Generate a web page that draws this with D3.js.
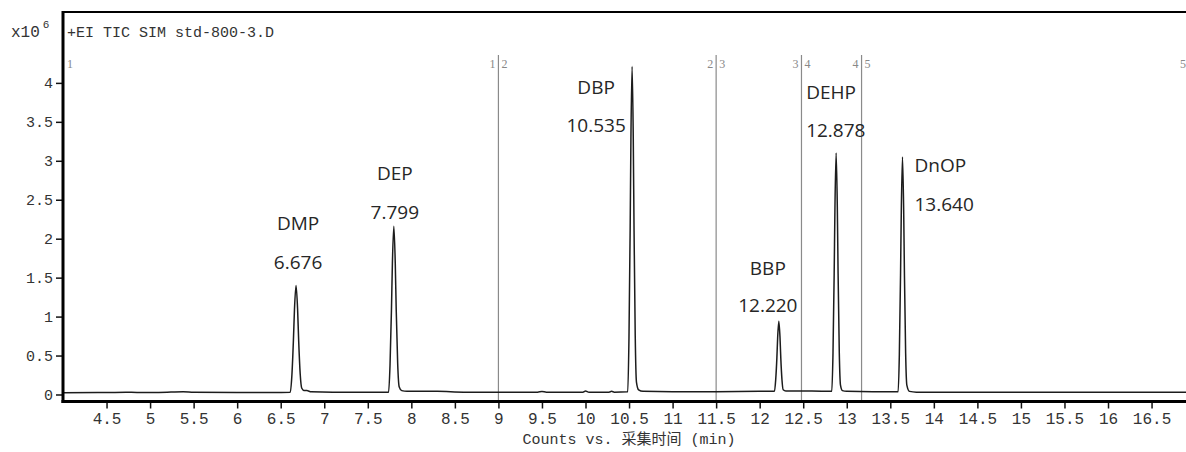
<!DOCTYPE html>
<html>
<head>
<meta charset="utf-8">
<script src="https://cdn.jsdelivr.net/npm/d3@7"></script>
<style>
    body { margin: 0; background: #fff; }
    .tick text { font-family: "Liberation Mono", monospace; fill: #333; }
</style>
</head>
<body>
<div id="chart"></div>
<script>
// trace: retention time (min) and counts (x10^6)
const times = [4.00, 4.40, 4.72, 4.85, 5.10, 5.38, 5.50, 6.00, 6.40, 6.61,
    6.628, 6.646, 6.658, 6.676, 6.694, 6.706, 6.724, 6.742, 6.77, 6.80, 6.85, 7.10, 7.50, 7.739,
    7.755, 7.7715, 7.7825, 7.799, 7.8155, 7.8265, 7.843, 7.86, 7.89, 7.95, 8.30, 8.60, 9.00, 9.45,
    9.50, 9.55, 9.97, 10.00, 10.04, 10.27, 10.30, 10.33, 10.485,
    10.499, 10.5125, 10.5215, 10.535, 10.5485, 10.5575, 10.571, 10.585, 10.61, 10.66, 11.00, 11.50, 12.00, 12.17,
    12.184, 12.1975, 12.2065, 12.22, 12.2335, 12.2425, 12.256, 12.27, 12.30, 12.60, 12.828,
    12.842, 12.8555, 12.8645, 12.878, 12.8915, 12.9005, 12.914, 12.928, 12.95, 13.00, 13.30, 13.59,
    13.604, 13.6175, 13.6265, 13.64, 13.6535, 13.6625, 13.676, 13.69, 13.72, 13.80, 14.50, 15.50, 16.30, 16.93];
const counts = [0.022, 0.024, 0.030, 0.026, 0.026, 0.036, 0.030, 0.026, 0.026, 0.030,
    0.24, 0.70, 1.09, 1.40, 1.09, 0.70, 0.26, 0.08, 0.05, 0.05, 0.035, 0.03, 0.03, 0.03,
    0.37, 1.08, 1.68, 2.16, 1.68, 1.08, 0.40, 0.10, 0.05, 0.04, 0.04, 0.03, 0.03, 0.03,
    0.038, 0.03, 0.03, 0.045, 0.03, 0.03, 0.04, 0.03, 0.035,
    0.72, 2.10, 3.28, 4.21, 3.28, 2.10, 0.75, 0.16, 0.06, 0.04, 0.035, 0.035, 0.04, 0.04,
    0.19, 0.47, 0.73, 0.94, 0.73, 0.47, 0.19, 0.06, 0.045, 0.045, 0.04,
    0.53, 1.55, 2.41, 3.10, 2.41, 1.55, 0.55, 0.12, 0.05, 0.04, 0.035, 0.035,
    0.52, 1.53, 2.37, 3.05, 2.37, 1.53, 0.54, 0.12, 0.04, 0.03, 0.03, 0.03, 0.03, 0.03];

const peakNames = ['DMP', 'DEP', 'DBP', 'BBP', 'DEHP', 'DnOP'];
const peakTimes = [6.676, 7.799, 10.535, 12.220, 12.878, 13.640];
const peakHeights = [1.40, 2.16, 4.21, 0.94, 3.10, 3.05];

// acquisition segment boundaries (min)
const segmentBreaks = [9.0, 11.5, 12.48, 13.17];
const segmentLabels = ['1', '2', '3', '4', '5'];

const xTicks = [4.5, 5, 5.5, 6, 6.5, 7, 7.5, 8, 8.5, 9, 9.5, 10, 10.5, 11, 11.5, 12, 12.5, 13, 13.5, 14, 14.5, 15, 15.5, 16, 16.5];
const yTicks = [0, 0.5, 1, 1.5, 2, 2.5, 3, 3.5, 4];
const xDomain = [4.0, 16.93];
const yDomain = [-0.09, 4.91];

const dataTitle = '+EI TIC SIM std-800-3.D';
const xTitle = 'Counts vs. 采集时间 (min)';

class Chromatogram {
    constructor(_config) {
        this.config = {
            parentElement: _config.parentElement,
            containerWidth: 1186,
            containerHeight: 452,
            margin: { top: 12, left: 63 },
            plotRight: 1189,
            plotBottom: 401.5
        };
        this.initVis();
    }

    initVis() {
        let vis = this;
        const c = vis.config;

        vis.svg = d3.select(c.parentElement).append('svg')
            .attr('width', c.containerWidth)
            .attr('height', c.containerHeight);

        vis.x = d3.scaleLinear().domain(xDomain).range([c.margin.left, c.plotRight]);
        vis.y = d3.scaleLinear().domain(yDomain).range([c.plotBottom, c.margin.top]);

        vis.renderVis();
    }

    renderVis() {
        let vis = this;
        const c = vis.config;
        const x = vis.x, y = vis.y;

        // segment boundaries
        const segs = vis.svg.append('g');
        segs.selectAll('line')
            .data(segmentBreaks)
            .join('line')
            .attr('x1', d => x(d)).attr('x2', d => x(d))
            .attr('y1', 55).attr('y2', c.plotBottom)
            .attr('stroke', '#8a8a8a')
            .attr('stroke-width', 1.2);

        const segText = (sel) => sel
            .attr('y', 68)
            .attr('font-family', '"Liberation Serif", serif')
            .attr('font-size', 12)
            .attr('fill', '#888');

        // first segment start and last segment end
        segs.append('text').call(segText)
            .attr('x', x(xDomain[0]) + 4).text(segmentLabels[0]);
        segs.append('text').call(segText)
            .attr('x', x(xDomain[1]) - 3).attr('text-anchor', 'end')
            .text(segmentLabels[segmentLabels.length - 1]);

        segmentBreaks.forEach((b, i) => {
            segs.append('text').call(segText)
                .attr('x', x(b) - 3).attr('text-anchor', 'end').text(segmentLabels[i]);
            segs.append('text').call(segText)
                .attr('x', x(b) + 3).text(segmentLabels[i + 1]);
        });

        // trace
        const line = d3.line()
            .x(d => x(d[0]))
            .y(d => y(d[1]))
            .curve(d3.curveMonotoneX);

        vis.svg.append('path')
            .datum(d3.zip(times, counts))
            .attr('d', line)
            .attr('fill', 'none')
            .attr('stroke', '#1c1c1c')
            .attr('stroke-width', 1.5);

        // peak annotations, offsets from apex in px
        const labelLayout = [
            { anchor: 'middle', dx: 2, nameDy: -62, rtDy: -23 },
            { anchor: 'middle', dx: 1, nameDy: -53, rtDy: -14 },
            { anchor: 'middle', dx: -36, nameDy: 21, rtDy: 59 },
            { anchor: 'middle', dx: -11, nameDy: -53, rtDy: -16 },
            { anchor: 'start', dx: -30, nameDy: -61, rtDy: -23 },
            { anchor: 'start', dx: 12, nameDy: 8, rtDy: 47 }
        ];

        const labels = vis.svg.append('g')
            .attr('font-family', '"Open Sans", sans-serif')
            .attr('font-size', 19)
            .attr('fill', '#262626');

        peakNames.forEach((name, i) => {
            const px = x(peakTimes[i]), py = y(peakHeights[i]);
            const l = labelLayout[i];
            labels.append('text')
                .attr('x', px + l.dx).attr('y', py + l.nameDy)
                .attr('dy', '0.35em')
                .attr('text-anchor', l.anchor)
                .text(name);
            labels.append('text')
                .attr('x', px + l.dx).attr('y', py + l.rtDy)
                .attr('dy', '0.35em')
                .attr('text-anchor', l.anchor)
                .text(peakTimes[i].toFixed(3));
        });

        // axes
        const xAxis = d3.axisBottom(x)
            .tickValues(xTicks)
            .tickSize(7)
            .tickSizeOuter(0)
            .tickPadding(4)
            .tickFormat(d => String(d));

        const yAxis = d3.axisLeft(y)
            .tickValues(yTicks)
            .tickSize(7)
            .tickSizeOuter(0)
            .tickPadding(3)
            .tickFormat(d => String(d));

        const gx = vis.svg.append('g')
            .attr('transform', `translate(0,${c.plotBottom})`)
            .call(xAxis);
        gx.select('.domain').remove();
        gx.selectAll('.tick line').attr('stroke', '#111').attr('stroke-width', 1.5);
        gx.selectAll('.tick text').attr('font-size', 16);

        const gy = vis.svg.append('g')
            .attr('transform', `translate(${c.margin.left},0)`)
            .call(yAxis);
        gy.select('.domain').remove();
        gy.selectAll('.tick line').attr('stroke', '#111').attr('stroke-width', 1.5);
        gy.selectAll('.tick text').attr('font-size', 15);

        // frame
        vis.svg.append('line')
            .attr('x1', c.margin.left).attr('x2', c.plotRight)
            .attr('y1', c.margin.top).attr('y2', c.margin.top)
            .attr('stroke', '#000').attr('stroke-width', 2);
        vis.svg.append('line')
            .attr('x1', c.margin.left).attr('x2', c.margin.left)
            .attr('y1', c.margin.top - 1).attr('y2', c.plotBottom + 1.5)
            .attr('stroke', '#000').attr('stroke-width', 3);
        vis.svg.append('line')
            .attr('x1', c.margin.left - 1.5).attr('x2', c.plotRight)
            .attr('y1', c.plotBottom).attr('y2', c.plotBottom)
            .attr('stroke', '#000').attr('stroke-width', 3);

        // titles
        vis.svg.append('text')
            .attr('x', 67).attr('y', 37)
            .attr('font-family', '"Liberation Mono", monospace')
            .attr('font-size', 15)
            .attr('fill', '#333')
            .text(dataTitle);

        const exp = vis.svg.append('text')
            .attr('x', 11).attr('y', 37)
            .attr('font-family', '"Liberation Mono", monospace')
            .attr('font-size', 16)
            .attr('fill', '#333');
        exp.append('tspan').text('x10');
        exp.append('tspan').attr('dx', 3).attr('dy', -9).attr('font-size', 11).text('6');

        vis.svg.append('text')
            .attr('x', 629).attr('y', 444)
            .attr('text-anchor', 'middle')
            .attr('font-family', '"Liberation Mono", "Noto Sans CJK SC", monospace')
            .attr('font-size', 15)
            .attr('fill', '#333')
            .text(xTitle);
    }
}

new Chromatogram({ parentElement: '#chart' });
</script>
</body>
</html>
